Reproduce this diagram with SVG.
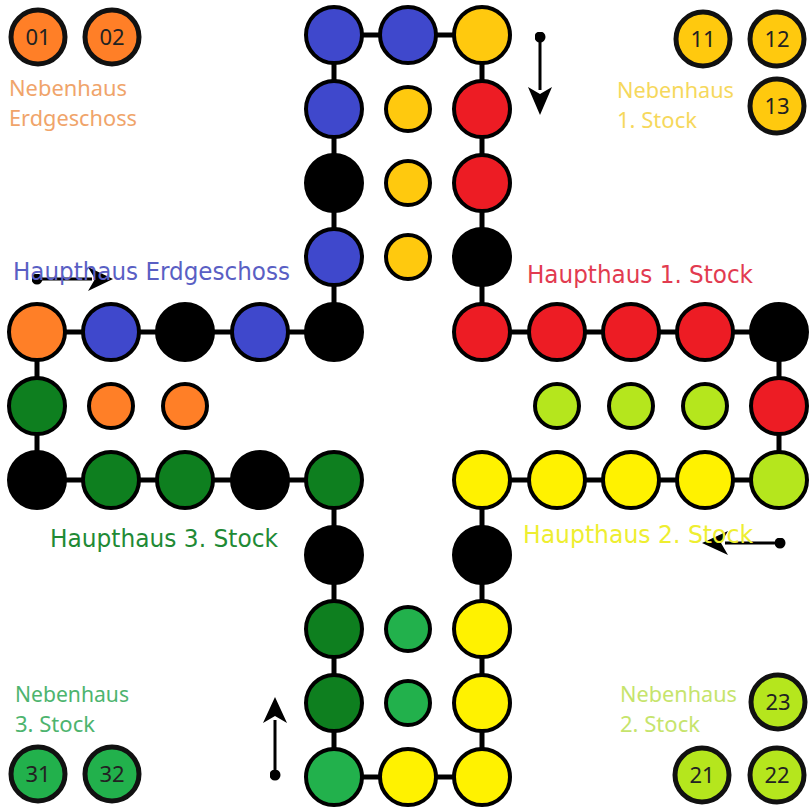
<svg xmlns="http://www.w3.org/2000/svg" width="812" height="810" viewBox="0 0 812 810">
<defs>
<style>
.b{stroke:#000;stroke-width:4}
.n{stroke:#111;stroke-width:5}
.blue{fill:#3F48CC}.amber{fill:#FFC90E}.red{fill:#ED1C24}.blk{fill:#000}
.org{fill:#FF7F27}.dg{fill:#0E7F1F}.lg{fill:#22B14C}.yel{fill:#FFF200}.lime{fill:#B5E61D}
.num{font-family:"Noto Sans","Open Sans",sans-serif;font-size:22px;fill:#222;text-anchor:middle}
.nl{font-family:"Noto Sans","Open Sans",sans-serif;font-size:21px}
.hl{font-family:"DejaVu Sans","Liberation Sans",sans-serif;font-size:24px}
.track{fill:none;stroke:#000;stroke-width:5}
.arr{stroke:#000;stroke-width:3;fill:none}
</style>
<marker id="dot" viewBox="-5 -5 10 10" refX="0" refY="0" markerWidth="11" markerHeight="11" markerUnits="userSpaceOnUse">
<circle r="5" fill="#000"/>
</marker>
</defs>
<rect width="812" height="810" fill="#fff"/>
<g id="connectors">
<polygon class="track" points="37,332 334,332 334,35 482,35 482,332 779,332 779,480 482,480 482,777 334,777 334,480 37,480"/>
<line class="arr" x1="540" y1="37" x2="540" y2="90" marker-start="url(#dot)"/>
<path d="M528,87 L540,115 L552,87 L540,94 Z" fill="#000"/>
<line class="arr" x1="37" y1="279" x2="92" y2="279" marker-start="url(#dot)"/>
<path d="M88,267 L113,279 L88,291 L95,279 Z" fill="#000"/>
<line class="arr" x1="780" y1="543" x2="725" y2="543" marker-start="url(#dot)"/>
<path d="M728,531 L702,543 L728,555 L721,543 Z" fill="#000"/>
<line class="arr" x1="275" y1="775" x2="275" y2="720" marker-start="url(#dot)"/>
<path d="M263,723 L275,697 L287,723 L275,716 Z" fill="#000"/>
</g>
<g id="top">
<g id="t1"><circle class="b blue" cx="334" cy="35" r="28"/></g>
<g id="t2"><circle class="b blue" cx="408" cy="35" r="28"/></g>
<g id="t3"><circle class="b amber" cx="482" cy="35" r="28"/></g>
<g id="t4"><circle class="b blue" cx="334" cy="109" r="28"/></g>
<g id="t5"><circle class="b amber" cx="408" cy="109" r="22"/></g>
<g id="t6"><circle class="b red" cx="482" cy="109" r="28"/></g>
<g id="t7"><circle class="b blk" cx="334" cy="183" r="28"/></g>
<g id="t8"><circle class="b amber" cx="408" cy="183" r="22"/></g>
<g id="t9"><circle class="b red" cx="482" cy="183" r="28"/></g>
<g id="t10"><circle class="b blue" cx="334" cy="257" r="28"/></g>
<g id="t11"><circle class="b amber" cx="408" cy="257" r="22"/></g>
<g id="t12"><circle class="b blk" cx="482" cy="257" r="28"/></g>
</g>
<g id="row332">
<g id="a1"><circle class="b org" cx="37" cy="332" r="28"/></g>
<g id="a2"><circle class="b blue" cx="111" cy="332" r="28"/></g>
<g id="a3"><circle class="b blk" cx="185" cy="332" r="28"/></g>
<g id="a4"><circle class="b blue" cx="260" cy="332" r="28"/></g>
<g id="a5"><circle class="b blk" cx="334" cy="332" r="28"/></g>
<g id="a6"><circle class="b red" cx="482" cy="332" r="28"/></g>
<g id="a7"><circle class="b red" cx="557" cy="332" r="28"/></g>
<g id="a8"><circle class="b red" cx="631" cy="332" r="28"/></g>
<g id="a9"><circle class="b red" cx="705" cy="332" r="28"/></g>
<g id="a10"><circle class="b blk" cx="779" cy="332" r="28"/></g>
</g>
<g id="row406">
<g id="m1"><circle class="b dg" cx="37" cy="406" r="28"/></g>
<g id="m2"><circle class="b org" cx="111" cy="406" r="22"/></g>
<g id="m3"><circle class="b org" cx="185" cy="406" r="22"/></g>
<g id="m4"><circle class="b lime" cx="557" cy="406" r="22"/></g>
<g id="m5"><circle class="b lime" cx="631" cy="406" r="22"/></g>
<g id="m6"><circle class="b lime" cx="705" cy="406" r="22"/></g>
<g id="m7"><circle class="b red" cx="779" cy="406" r="28"/></g>
</g>
<g id="row480">
<g id="c1"><circle class="b blk" cx="37" cy="480" r="28"/></g>
<g id="c2"><circle class="b dg" cx="111" cy="480" r="28"/></g>
<g id="c3"><circle class="b dg" cx="185" cy="480" r="28"/></g>
<g id="c4"><circle class="b blk" cx="260" cy="480" r="28"/></g>
<g id="c5"><circle class="b dg" cx="334" cy="480" r="28"/></g>
<g id="c6"><circle class="b yel" cx="482" cy="480" r="28"/></g>
<g id="c7"><circle class="b yel" cx="557" cy="480" r="28"/></g>
<g id="c8"><circle class="b yel" cx="631" cy="480" r="28"/></g>
<g id="c9"><circle class="b yel" cx="705" cy="480" r="28"/></g>
<g id="c10"><circle class="b lime" cx="779" cy="480" r="28"/></g>
</g>
<g id="bottom">
<g id="d1"><circle class="b blk" cx="334" cy="555" r="28"/></g>
<g id="d2"><circle class="b blk" cx="482" cy="555" r="28"/></g>
<g id="d3"><circle class="b dg" cx="334" cy="629" r="28"/></g>
<g id="d4"><circle class="b lg" cx="408" cy="629" r="22"/></g>
<g id="d5"><circle class="b yel" cx="482" cy="629" r="28"/></g>
<g id="d6"><circle class="b dg" cx="334" cy="703" r="28"/></g>
<g id="d7"><circle class="b lg" cx="408" cy="703" r="22"/></g>
<g id="d8"><circle class="b yel" cx="482" cy="703" r="28"/></g>
<g id="d9"><circle class="b lg" cx="334" cy="777" r="28"/></g>
<g id="d10"><circle class="b yel" cx="408" cy="777" r="28"/></g>
<g id="d11"><circle class="b yel" cx="482" cy="777" r="28"/></g>
</g>
<g id="n01"><circle class="n org" cx="38" cy="37" r="27"/><text class="num" x="38" y="45">01</text></g>
<g id="n02"><circle class="n org" cx="112" cy="37" r="27"/><text class="num" x="112" y="45">02</text></g>
<g id="n11"><circle class="n amber" cx="703" cy="39" r="27"/><text class="num" x="703" y="47">11</text></g>
<g id="n12"><circle class="n amber" cx="777" cy="39" r="27"/><text class="num" x="777" y="47">12</text></g>
<g id="n13"><circle class="n amber" cx="777" cy="106" r="27"/><text class="num" x="777" y="114">13</text></g>
<g id="n23"><circle class="n lime" cx="778" cy="702" r="27"/><text class="num" x="778" y="710">23</text></g>
<g id="n21"><circle class="n lime" cx="702" cy="775" r="27"/><text class="num" x="702" y="783">21</text></g>
<g id="n22"><circle class="n lime" cx="777" cy="775" r="27"/><text class="num" x="777" y="783">22</text></g>
<g id="n31"><circle class="n lg" cx="38" cy="774" r="27"/><text class="num" x="38" y="782">31</text></g>
<g id="n32"><circle class="n lg" cx="112" cy="774" r="27"/><text class="num" x="112" y="782">32</text></g>
<g id="labels">
<text class="nl" fill="#F0A46A" x="9" y="96" textLength="118" lengthAdjust="spacingAndGlyphs">Nebenhaus</text>
<text class="nl" fill="#F0A46A" x="9" y="126" textLength="128" lengthAdjust="spacingAndGlyphs">Erdgeschoss</text>
<text class="nl" fill="#F6D85C" x="617" y="98" textLength="117" lengthAdjust="spacingAndGlyphs">Nebenhaus</text>
<text class="nl" fill="#F6D85C" x="617" y="128" textLength="80" lengthAdjust="spacingAndGlyphs">1. Stock</text>
<text class="nl" fill="#C6E46C" x="620" y="702" textLength="117" lengthAdjust="spacingAndGlyphs">Nebenhaus</text>
<text class="nl" fill="#C6E46C" x="620" y="732" textLength="80" lengthAdjust="spacingAndGlyphs">2. Stock</text>
<text class="nl" fill="#4DB46E" x="15" y="702" textLength="114" lengthAdjust="spacingAndGlyphs">Nebenhaus</text>
<text class="nl" fill="#4DB46E" x="15" y="732" textLength="80" lengthAdjust="spacingAndGlyphs">3. Stock</text>
<text class="hl" fill="#5A5FC4" x="13" y="280" textLength="277" lengthAdjust="spacingAndGlyphs">Haupthaus Erdgeschoss</text>
<text class="hl" fill="#E23B50" x="527" y="283" textLength="226" lengthAdjust="spacingAndGlyphs">Haupthaus 1. Stock</text>
<text class="hl" fill="#EEEE30" x="523" y="543" textLength="230" lengthAdjust="spacingAndGlyphs">Haupthaus 2. Stock</text>
<text class="hl" fill="#1F8A35" x="50" y="547" textLength="228" lengthAdjust="spacingAndGlyphs">Haupthaus 3. Stock</text>
</g>
</svg>
